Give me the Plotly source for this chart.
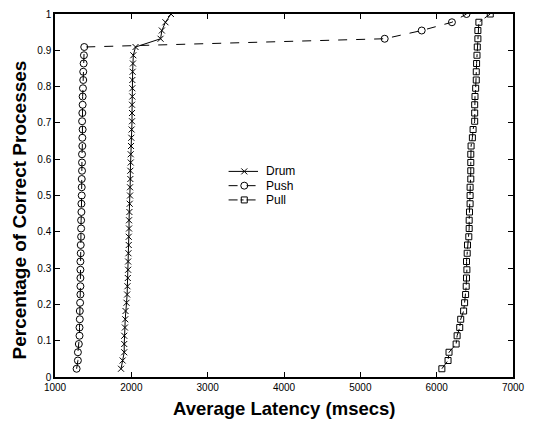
import plotly.graph_objects as go

n = 44
frac = [k / n for k in range(1, n + 1)]

drum_x = [1865, 1886, 1907, 1907, 1907, 1916, 1920, 1924, 1937, 1945, 1949, 1954, 1958,
          1958, 1962, 1966, 1966, 1970, 1970, 1975, 1979, 1983, 1983, 1987, 1987, 1992,
          1992, 1996, 2000, 2004,
          2009, 2009, 2009, 2013, 2013, 2013, 2017, 2021, 2026, 2055, 2383, 2400, 2447, 2519]

push_x = [1283, 1300, 1300, 1312, 1321, 1321, 1325, 1325, 1329, 1333, 1333, 1333, 1333,
          1333, 1337, 1337, 1342, 1342, 1342, 1346, 1346, 1350, 1350, 1350, 1354, 1354,
          1354, 1358, 1358, 1362,
          1355, 1358, 1362, 1362, 1366, 1370, 1370, 1375, 1379, 1383, 5319, 5804, 6200, 6391]

pull_x = [6068, 6149, 6162, 6255, 6268, 6302, 6315, 6353, 6366, 6379, 6387, 6391, 6396,
          6391, 6400, 6404, 6421, 6426, 6426, 6430, 6438, 6438, 6438, 6447, 6447, 6447,
          6447, 6451, 6468, 6477,
          6498, 6498, 6498, 6502, 6511, 6519, 6519, 6523, 6528, 6532, 6540, 6540, 6553, 6702]

series_names = ["Drum", "Push", "Pull"]
series_x = [drum_x, push_x, pull_x]
dashes = ["solid", "dash", "dashdot"]
symbols = ["x-thin-open", "circle-open", "square-open"]
sizes = [6, 7, 6]

x_ticks = [1000, 2000, 3000, 4000, 5000, 6000, 7000]
y_ticks = [0, 0.1, 0.2, 0.3, 0.4, 0.5, 0.6, 0.7, 0.8, 0.9, 1]
y_ticktext = ["0", "0.1", "0.2", "0.3", "0.4", "0.5", "0.6", "0.7", "0.8", "0.9", "1"]

# plot area in pixels
L, R, T, B = 55, 522, 8, 377
W, H = 533, 423
FONT = "Liberation Sans, Arial"

fig = go.Figure()
for name, xs, d, s, sz in zip(series_names, series_x, dashes, symbols, sizes):
    fig.add_trace(go.Scatter(x=xs, y=frac, name=name, mode="lines+markers",
                             line=dict(color="black", width=1, dash=d),
                             marker=dict(symbol=s, size=sz, color="black",
                                         line=dict(color="black", width=1)),
                             showlegend=False))

# manual legend on an overlay axis expressed in pixel units
leg_y = [168, 182.5, 197]
for name, d, s, sz, yy in zip(series_names, dashes, symbols, sizes, leg_y):
    fig.add_trace(go.Scatter(x=[232, 262], y=[yy, yy], mode="lines", xaxis="x2", yaxis="y2",
                             line=dict(color="black", width=1, dash=d), showlegend=False,
                             hoverinfo="skip"))
    fig.add_trace(go.Scatter(x=[248], y=[yy], mode="markers", xaxis="x2", yaxis="y2",
                             marker=dict(symbol=s, size=sz, color="black",
                                         line=dict(color="black", width=1)),
                             showlegend=False, hoverinfo="skip"))
    fig.add_annotation(x=269, y=yy, xref="x2", yref="y2", text=name, showarrow=False,
                       xanchor="left", yanchor="middle", borderpad=0,
                       font=dict(family=FONT, size=12, color="black"))

axis_common = dict(showline=True, linecolor="black", linewidth=1.5, mirror="ticks",
                   ticks="inside", ticklen=5, tickcolor="black", showgrid=False,
                   zeroline=False, ticklabeloverflow="allow",
                   tickfont=dict(family=FONT, size=10, color="black"))

fig.update_layout(
    width=W, height=H,
    margin=dict(l=L, r=W - R, t=T, b=H - B),
    paper_bgcolor="white", plot_bgcolor="white",
    font=dict(family=FONT, color="black"),
    xaxis=dict(range=[1000, 7000], tickvals=x_ticks, ticktext=[str(v) for v in x_ticks],
               **axis_common),
    yaxis=dict(range=[0, 1], tickvals=y_ticks, ticktext=y_ticktext, **axis_common),
    xaxis2=dict(range=[L, R], overlaying="x", visible=False, fixedrange=True),
    yaxis2=dict(range=[B, T], overlaying="y", visible=False, fixedrange=True),
    showlegend=False,
)

def px_to_paper_x(px):
    return (px - L) / (R - L)

def px_to_paper_y(py):
    return (B - py) / (B - T)

fig.add_annotation(x=px_to_paper_x(288), y=px_to_paper_y(409), xref="paper", yref="paper",
                   text="<b>Average Latency (msecs)</b>", showarrow=False,
                   xanchor="center", yanchor="middle",
                   font=dict(family=FONT, size=18.5, color="black"))
fig.add_annotation(x=px_to_paper_x(19), y=px_to_paper_y(207), xref="paper", yref="paper",
                   text="<b>Percentage of Correct Processes</b>", showarrow=False,
                   textangle=-90, xanchor="center", yanchor="middle",
                   font=dict(family=FONT, size=19, color="black"))

fig.write_html("out.html")
